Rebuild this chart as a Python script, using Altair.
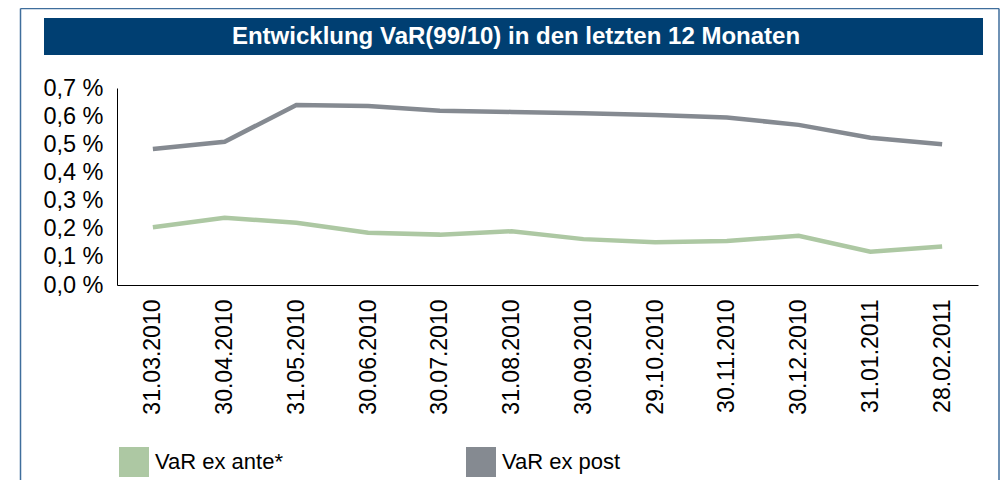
import altair as alt
import pandas as pd

dates = ["31.03.2010", "30.04.2010", "31.05.2010", "30.06.2010", "30.07.2010", "31.08.2010",
         "30.09.2010", "29.10.2010", "30.11.2010", "30.12.2010", "31.01.2011", "28.02.2011"]
var_ex_ante = [0.205, 0.239, 0.221, 0.186, 0.179, 0.191, 0.163, 0.152, 0.156, 0.175, 0.118, 0.137]
var_ex_post = [0.483, 0.509, 0.640, 0.636, 0.619, 0.615, 0.610, 0.604, 0.595, 0.569, 0.523, 0.500]
series_names = ["VaR ex ante*", "VaR ex post"]
series_colors = ["#adc8a3", "#858a91"]
y_ticks = [0.0, 0.1, 0.2, 0.3, 0.4, 0.5, 0.6, 0.7]
title_text = "Entwicklung VaR(99/10) in den letzten 12 Monaten"

FONT = "Liberation Sans"
FRAME = "#3f6e9c"
BAR = "#003f72"

rows = []
for d, a, p in zip(dates, var_ex_ante, var_ex_post):
    rows.append({"date": d, "series": series_names[0], "value": a})
    rows.append({"date": d, "series": series_names[1], "value": p})
df = pd.DataFrame(rows)

one = pd.DataFrame({"k": [0]})

frame_left = alt.Chart(one).mark_rule(color=FRAME, strokeWidth=1.5).encode(
    x=alt.value(-96.5), y=alt.value(-79.5), y2=alt.value(420))
frame_top = alt.Chart(one).mark_rule(color=FRAME, strokeWidth=1.5).encode(
    x=alt.value(-96.5), x2=alt.value(882), y=alt.value(-79.5))
frame_right = alt.Chart(one).mark_rule(color=FRAME, strokeWidth=1.5).encode(
    x=alt.value(882), y=alt.value(-79.5), y2=alt.value(420))
title_bar = alt.Chart(one).mark_rect(color=BAR).encode(
    x=alt.value(-73), x2=alt.value(866), y=alt.value(-70), y2=alt.value(-33))
title = alt.Chart(one).mark_text(
    font=FONT, fontWeight="bold", fontSize=24, color="white", align="center", baseline="middle"
).encode(x=alt.value(399), y=alt.value(-51), text=alt.value(title_text))

x_enc = alt.X("date:N", sort=dates, title=None,
              axis=alt.Axis(labelAngle=270, ticks=False, tickSize=0, labelPadding=14,
                            labelFontSize=23, labelFont=FONT, labelColor="black",
                            domainColor="black", domainWidth=1, grid=False))
y_enc = alt.Y("value:Q", title=None,
              scale=alt.Scale(domain=[0, 0.7], nice=False, zero=True),
              axis=alt.Axis(values=y_ticks, ticks=False, tickSize=0, labelPadding=14,
                            labelFontSize=23.5, labelFont=FONT, labelColor="black",
                            labelExpr="replace(format(datum.value, '.1f'), '.', ',') + ' %'",
                            domainColor="black", domainWidth=1, grid=False))
color_scale = alt.Scale(domain=series_names, range=series_colors)

lines = alt.Chart(df).mark_line(strokeWidth=4.5).encode(
    x=x_enc, y=y_enc,
    color=alt.Color("series:N", scale=color_scale, legend=None),
)

legend_keys = alt.Chart(df).mark_square(size=0, filled=True, opacity=1).encode(
    x=x_enc, y=y_enc,
    color=alt.Color("series:N", scale=color_scale,
                    legend=alt.Legend(orient="none", legendX=2, legendY=359, direction="horizontal",
                                      columns=2, title=None, symbolType="square", symbolSize=900,
                                      symbolStrokeWidth=0, symbolOpacity=1, labelFontSize=22,
                                      labelFont=FONT, labelColor="black", labelOffset=6,
                                      columnPadding=182, padding=0)),
)

chart = alt.layer(frame_left, frame_top, frame_right, title_bar, title, lines, legend_keys).resolve_legend(
    color="independent"
).properties(
    width=861, height=197,
    autosize=alt.AutoSizeParams(type="none"),
    padding={"left": 109, "top": 80, "right": 22, "bottom": 195},
    background="white",
).configure_view(stroke=None)

chart.save("out.html", embed_options={"renderer": "svg", "actions": False})
